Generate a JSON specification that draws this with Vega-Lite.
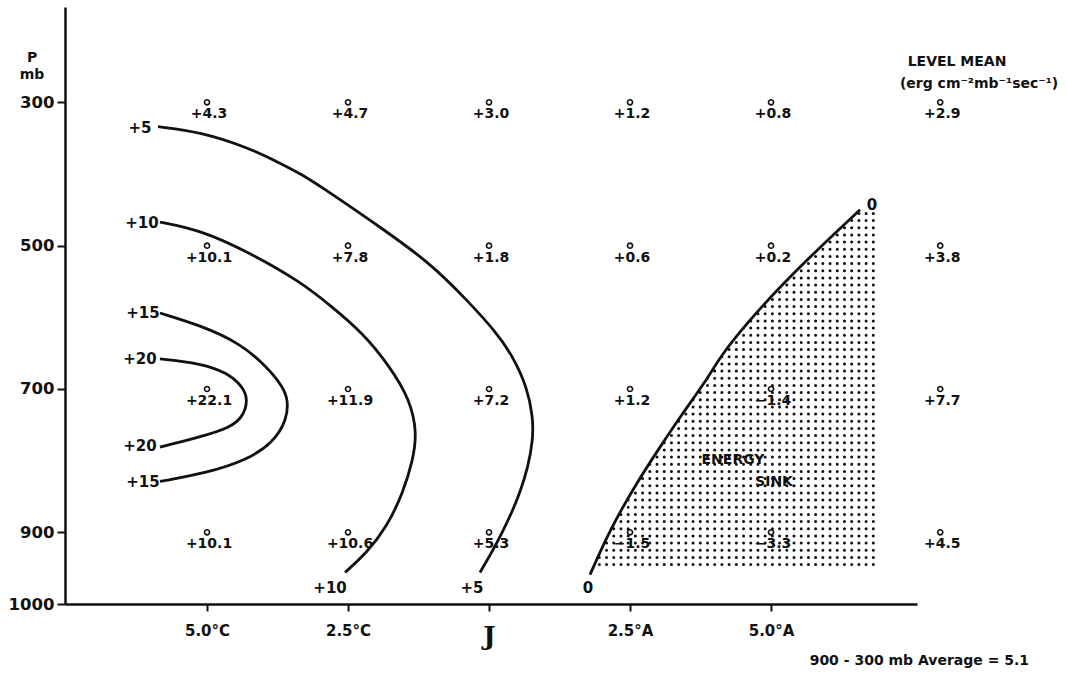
{
  "$schema": "https://vega.github.io/schema/vega-lite/v6.json",
  "width": 852,
  "height": 597,
  "autosize": "none",
  "padding": {"left": 65, "top": 7, "right": 150, "bottom": 82},
  "background": "white",
  "config": {"view": {"stroke": null}, "font": "DejaVu Sans"},
  "datasets": {
    "grid": [
      {"col": -5, "p": 300, "val": 4.3}, {"col": -2.5, "p": 300, "val": 4.7}, {"col": 0, "p": 300, "val": 3.0}, {"col": 2.5, "p": 300, "val": 1.2}, {"col": 5, "p": 300, "val": 0.8}, {"col": 8.0, "p": 300, "val": 2.9},
      {"col": -5, "p": 500, "val": 10.1}, {"col": -2.5, "p": 500, "val": 7.8}, {"col": 0, "p": 500, "val": 1.8}, {"col": 2.5, "p": 500, "val": 0.6}, {"col": 5, "p": 500, "val": 0.2}, {"col": 8.0, "p": 500, "val": 3.8},
      {"col": -5, "p": 700, "val": 22.1}, {"col": -2.5, "p": 700, "val": 11.9}, {"col": 0, "p": 700, "val": 7.2}, {"col": 2.5, "p": 700, "val": 1.2}, {"col": 5, "p": 700, "val": -1.4}, {"col": 8.0, "p": 700, "val": 7.7},
      {"col": -5, "p": 900, "val": 10.1}, {"col": -2.5, "p": 900, "val": 10.6}, {"col": 0, "p": 900, "val": 5.3}, {"col": 2.5, "p": 900, "val": -1.5}, {"col": 5, "p": 900, "val": -3.3}, {"col": 8.0, "p": 900, "val": 4.5}
    ],
    "contours": [
      {"c": "5", "i": 1, "x": -5.869, "p": 334}, {"c": "5", "i": 2, "x": -5.124, "p": 341}, {"c": "5", "i": 3, "x": -4.238, "p": 364}, {"c": "5", "i": 4, "x": -3.706, "p": 385}, {"c": "5", "i": 5, "x": -3.351, "p": 399}, {"c": "5", "i": 6, "x": -2.819, "p": 426}, {"c": "5", "i": 7, "x": -1.933, "p": 474}, {"c": "5", "i": 8, "x": -1.046, "p": 524}, {"c": "5", "i": 9, "x": -0.39, "p": 576}, {"c": "5", "i": 10, "x": 0.142, "p": 622}, {"c": "5", "i": 11, "x": 0.425, "p": 655}, {"c": "5", "i": 12, "x": 0.673, "p": 697}, {"c": "5", "i": 13, "x": 0.78, "p": 739}, {"c": "5", "i": 14, "x": 0.78, "p": 771}, {"c": "5", "i": 15, "x": 0.691, "p": 809}, {"c": "5", "i": 16, "x": 0.549, "p": 845}, {"c": "5", "i": 17, "x": 0.372, "p": 878}, {"c": "5", "i": 18, "x": 0.142, "p": 915}, {"c": "5", "i": 19, "x": -0.16, "p": 956},
      {"c": "10", "i": 1, "x": -5.834, "p": 467}, {"c": "10", "i": 2, "x": -5.124, "p": 478}, {"c": "10", "i": 3, "x": -4.238, "p": 510}, {"c": "10", "i": 4, "x": -3.351, "p": 550}, {"c": "10", "i": 5, "x": -2.819, "p": 583}, {"c": "10", "i": 6, "x": -2.234, "p": 622}, {"c": "10", "i": 7, "x": -1.756, "p": 669}, {"c": "10", "i": 8, "x": -1.401, "p": 715}, {"c": "10", "i": 9, "x": -1.277, "p": 761}, {"c": "10", "i": 10, "x": -1.348, "p": 799}, {"c": "10", "i": 11, "x": -1.525, "p": 845}, {"c": "10", "i": 12, "x": -1.809, "p": 892}, {"c": "10", "i": 13, "x": -2.163, "p": 928}, {"c": "10", "i": 14, "x": -2.553, "p": 956},
      {"c": "15", "i": 1, "x": -5.834, "p": 594}, {"c": "15", "i": 2, "x": -5.124, "p": 611}, {"c": "15", "i": 3, "x": -4.415, "p": 636}, {"c": "15", "i": 4, "x": -3.936, "p": 669}, {"c": "15", "i": 5, "x": -3.653, "p": 697}, {"c": "15", "i": 6, "x": -3.564, "p": 715}, {"c": "15", "i": 7, "x": -3.582, "p": 743}, {"c": "15", "i": 8, "x": -3.83, "p": 775}, {"c": "15", "i": 9, "x": -4.291, "p": 799}, {"c": "15", "i": 10, "x": -5.0, "p": 817}, {"c": "15", "i": 11, "x": -5.834, "p": 829},
      {"c": "20", "i": 1, "x": -5.834, "p": 658}, {"c": "20", "i": 2, "x": -5.124, "p": 664}, {"c": "20", "i": 3, "x": -4.646, "p": 677}, {"c": "20", "i": 4, "x": -4.362, "p": 697}, {"c": "20", "i": 5, "x": -4.273, "p": 715}, {"c": "20", "i": 6, "x": -4.362, "p": 739}, {"c": "20", "i": 7, "x": -4.592, "p": 754}, {"c": "20", "i": 8, "x": -5.124, "p": 767}, {"c": "20", "i": 9, "x": -5.834, "p": 781},
      {"c": "0", "i": 1, "x": 1.791, "p": 959}, {"c": "0", "i": 2, "x": 2.145, "p": 896}, {"c": "0", "i": 3, "x": 2.624, "p": 830}, {"c": "0", "i": 4, "x": 3.032, "p": 781}, {"c": "0", "i": 5, "x": 3.386, "p": 739}, {"c": "0", "i": 6, "x": 3.865, "p": 687}, {"c": "0", "i": 7, "x": 4.095, "p": 655}, {"c": "0", "i": 8, "x": 4.574, "p": 608}, {"c": "0", "i": 9, "x": 5.106, "p": 562}, {"c": "0", "i": 10, "x": 5.638, "p": 520}, {"c": "0", "i": 11, "x": 6.099, "p": 485}, {"c": "0", "i": 12, "x": 6.578, "p": 450}
    ],
    "mask": [
      {"p": 440, "x": 6.9}, {"p": 450, "x": 6.578}, {"p": 485, "x": 6.099}, {"p": 520, "x": 5.638}, {"p": 562, "x": 5.106}, {"p": 608, "x": 4.574}, {"p": 655, "x": 4.095}, {"p": 687, "x": 3.865}, {"p": 739, "x": 3.386}, {"p": 781, "x": 3.032}, {"p": 830, "x": 2.624}, {"p": 896, "x": 2.145}, {"p": 959, "x": 1.791}, {"p": 966, "x": 1.6}
    ],
    "stipple": [
      {"p": 455}, {"p": 465}, {"p": 475}, {"p": 485}, {"p": 495}, {"p": 505}, {"p": 515}, {"p": 525}, {"p": 535}, {"p": 545},
      {"p": 555}, {"p": 565}, {"p": 575}, {"p": 585}, {"p": 595}, {"p": 605}, {"p": 615}, {"p": 625}, {"p": 635}, {"p": 645},
      {"p": 655}, {"p": 665}, {"p": 675}, {"p": 685}, {"p": 695}, {"p": 705}, {"p": 715}, {"p": 725}, {"p": 735}, {"p": 745},
      {"p": 755}, {"p": 765}, {"p": 775}, {"p": 785}, {"p": 795}, {"p": 805}, {"p": 815}, {"p": 825}, {"p": 835}, {"p": 845},
      {"p": 855}, {"p": 865}, {"p": 875}, {"p": 885}, {"p": 895}, {"p": 905}, {"p": 915}, {"p": 925}, {"p": 935}, {"p": 945}
    ],
    "clabels": [
      {"x": -6.188, "p": 336, "t": "+5"}, {"x": -6.153, "p": 468, "t": "+10"}, {"x": -6.135, "p": 594, "t": "+15"}, {"x": -6.188, "p": 658, "t": "+20"}, {"x": -6.188, "p": 779, "t": "+20"}, {"x": -6.135, "p": 830, "t": "+15"},
      {"x": -2.819, "p": 977, "t": "+10"}, {"x": -0.302, "p": 977, "t": "+5"}, {"x": 1.755, "p": 977, "t": "0"}, {"x": 6.791, "p": 443, "t": "0"}
    ],
    "notes": [
      {"x": -8.103, "p": 238, "t": "P"}, {"x": -8.103, "p": 262, "t": "mb"},
      {"x": 8.298, "p": 244, "t": "LEVEL MEAN"}, {"x": 8.688, "p": 274, "t": "(erg cm⁻²mb⁻¹sec⁻¹)"},
      {"x": 4.326, "p": 799, "t": "ENERGY"}, {"x": 5.053, "p": 830, "t": "SINK"},
      {"x": 7.63, "p": 1080, "t": "900 - 300 mb  Average   =   5.1"}
    ]
  },
  "encoding": {
    "y": {"type": "quantitative", "scale": {"domain": [167, 1000], "reverse": true, "nice": false, "zero": false},
      "axis": {"values": [300, 500, 700, 900, 1000], "format": "d", "title": null, "grid": false, "tickSize": 8, "tickWidth": 2, "tickColor": "#111", "domainColor": "#111", "domainWidth": 2.5, "labelFont": "DejaVu Sans", "labelFontWeight": "bold", "labelFontSize": 16.5, "labelColor": "#111", "labelPadding": 3}},
    "x": {"type": "quantitative", "scale": {"domain": [-7.518, 7.588], "nice": false, "zero": false},
      "axis": {"values": [-5, -2.5, 0, 2.5, 5], "title": null, "grid": false, "tickSize": 7, "tickWidth": 2, "tickColor": "#111", "domainColor": "#111", "domainWidth": 2.5,
        "labelExpr": "datum.value == -5 ? '5.0°C' : datum.value == -2.5 ? '2.5°C' : datum.value == 0 ? 'J' : datum.value == 2.5 ? '2.5°A' : '5.0°A'",
        "labelFont": {"condition": {"test": "datum.value == 0", "value": "DejaVu Serif"}, "value": "DejaVu Sans"},
        "labelFontSize": {"condition": {"test": "datum.value == 0", "value": 26}, "value": 15},
        "labelFontWeight": "bold", "labelColor": "#111", "labelPadding": 12}}
  },
  "layer": [
    {
      "data": {"name": "stipple"},
      "mark": {"type": "rule", "color": "#111", "strokeWidth": 3, "strokeCap": "round", "strokeDash": [0.01, 7.2]},
      "encoding": {"y": {"field": "p", "type": "quantitative"}, "x": {"datum": 1.7, "type": "quantitative"}, "x2": {"datum": 6.844}}
    },
    {
      "data": {"name": "mask"},
      "mark": {"type": "area", "orient": "horizontal", "color": "white", "opacity": 1},
      "encoding": {"y": {"field": "p", "type": "quantitative"}, "x": {"field": "x", "type": "quantitative"}, "x2": {"datum": 1.6}}
    },
    {
      "data": {"name": "contours"},
      "mark": {"type": "line", "color": "#111", "strokeWidth": 2.8, "interpolate": "basis"},
      "encoding": {"x": {"field": "x", "type": "quantitative"}, "y": {"field": "p", "type": "quantitative"}, "detail": {"field": "c"}, "order": {"field": "i", "type": "quantitative"}}
    },
    {
      "data": {"name": "clabels"},
      "mark": {"type": "text", "font": "DejaVu Sans", "fontWeight": "bold", "fontSize": 15, "color": "#111"},
      "encoding": {"x": {"field": "x", "type": "quantitative"}, "y": {"field": "p", "type": "quantitative"}, "text": {"field": "t"}}
    },
    {
      "data": {"name": "grid"},
      "mark": {"type": "point", "shape": "circle", "size": 26, "strokeWidth": 1.6, "color": "#111", "opacity": 1, "filled": false},
      "encoding": {"x": {"field": "col", "type": "quantitative"}, "y": {"field": "p", "type": "quantitative"}}
    },
    {
      "data": {"name": "grid"},
      "mark": {"type": "text", "font": "DejaVu Sans", "fontWeight": "bold", "fontSize": 14, "color": "#111", "dy": 12, "dx": 2},
      "encoding": {"x": {"field": "col", "type": "quantitative"}, "y": {"field": "p", "type": "quantitative"}, "text": {"field": "val", "type": "quantitative", "format": "+.1f"}}
    },
    {
      "data": {"name": "notes"},
      "mark": {"type": "text", "font": "DejaVu Sans", "fontWeight": "bold", "fontSize": 14, "color": "#111", "letterSpacing": 1},
      "encoding": {"x": {"field": "x", "type": "quantitative"}, "y": {"field": "p", "type": "quantitative"}, "text": {"field": "t"}}
    }
  ]
}
